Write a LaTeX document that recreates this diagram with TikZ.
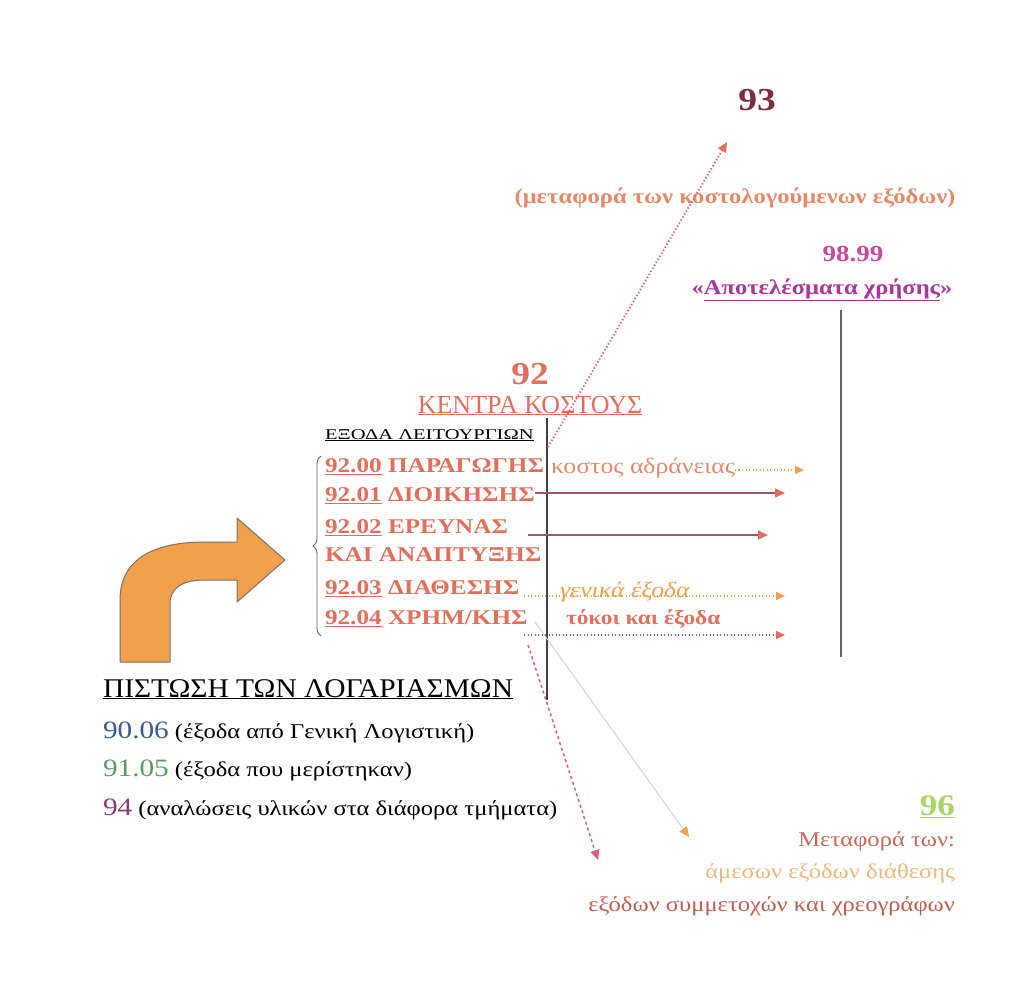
\documentclass[tikz,border=0pt]{standalone}
\usepackage{fontspec}
\setmainfont[FakeStretch=1.17]{Liberation Serif}
\newfontfamily\widefont[FakeStretch=1.37]{Liberation Serif}
\newfontfamily\itemfont[FakeStretch=1.2]{Liberation Serif}
\newfontfamily\plainfont{Liberation Serif}
\newfontfamily\midfont[FakeStretch=1.09]{Liberation Serif}
\usetikzlibrary{arrows.meta,decorations.pathreplacing}
\newcommand{\fsz}[1]{\fontsize{#1}{#1}\selectfont}
\definecolor{salmon}{HTML}{E0705C}
\definecolor{maroon}{HTML}{7A2E3E}
\definecolor{orsal}{HTML}{E58A68}
\definecolor{magent}{HTML}{C8489E}
\definecolor{purp}{HTML}{A8389A}
\definecolor{orng}{HTML}{F3A04C}
\definecolor{mauve}{HTML}{A8506A}
\definecolor{pinkr}{HTML}{D86070}
\definecolor{bluen}{HTML}{3A5A92}
\definecolor{greenn}{HTML}{5A9A62}
\definecolor{purpn}{HTML}{8A3A72}
\definecolor{lime}{HTML}{A8D468}
\definecolor{brsal}{HTML}{C86858}
\definecolor{lorng}{HTML}{EDB880}
\definecolor{faint}{HTML}{D8CCC4}
\begin{document}
\begin{tikzpicture}[x=1pt,y=-1pt,
  lbl/.style={inner sep=0pt, outer sep=0pt},
  item/.style={lbl, anchor=base west, font=\fsz{21}\itemfont\bfseries, text=salmon},
  dotl/.style={line width=1.9pt, dash pattern=on 1.3pt off 2.2pt},
  solidl/.style={line width=1.4pt},
  rule/.style={draw=black!75, line width=1.2pt}]
\fill[white] (0,0) rectangle (1027,1003);
\useasboundingbox (0,0) rectangle (1027,1003);

% top: 93
\node[lbl, anchor=base, font=\fsz{32}\bfseries, text=maroon] (n93) at (757,111) {93};
\node[lbl, anchor=base, font=\fsz{21}\bfseries, text=orsal] (lab93) at (735,204) {(μεταφορά των κοστολογούμενων εξόδων)};

% 98.99
\node[lbl, anchor=base, font=\fsz{23}\bfseries, text=magent] (n9899) at (853,261) {98.99};
\node[lbl, anchor=base, font=\fsz{21}\bfseries, text=purp] (res) at (822,294) {«\underline{Αποτελέσματα χρήσης}»};
\coordinate (rtop) at (841,310);
\coordinate (rbot) at (841,657);
\draw[draw=black!60, line width=1.3pt] (rtop) -- (rbot);

% 92
\node[lbl, anchor=base, font=\fsz{32}\bfseries, text=salmon] (n92) at (530,384) {92};
\node[lbl, anchor=base, font=\fsz{26}\plainfont, text=salmon] (kk) at (530,413) {\underline{ΚΕΝΤΡΑ ΚΟΣΤΟΥΣ}};
\coordinate (ctop) at (547,418);
\coordinate (cbot) at (547,700);
\draw[rule] (ctop) -- (cbot);

\node[lbl, anchor=base west, font=\fsz{15}\widefont, text=black] (exoda) at (325,439) {\underline{ΕΞΟΔΑ ΛΕΙΤΟΥΡΓΙΩΝ}};

% list
\node[item] (i0) at (325,472) {\underline{92.00} ΠΑΡΑΓΩΓΗΣ};
\node[item] (i1) at (325,501) {\underline{92.01} ΔΙΟΙΚΗΣΗΣ};
\node[item] (i2) at (325,533) {\underline{92.02} ΕΡΕΥΝΑΣ};
\node[item] (i2b) at (325,561) {ΚΑΙ ΑΝΑΠΤΥΞΗΣ};
\node[item] (i3) at (325,594) {\underline{92.03} ΔΙΑΘΕΣΗΣ};
\node[item] (i4) at (325,624) {\underline{92.04} ΧΡΗΜ/ΚΗΣ};

% brace
\coordinate (bb) at (321,636);
\coordinate (bt) at (321,456);
\draw[draw=black!60, line width=0.9pt, decorate, decoration={brace, amplitude=8pt}] (bb) -- (bt);

% side labels
\node[lbl, anchor=base west, font=\fsz{22}, text=orsal] (kad) at (551,473) {κοστος αδράνειας};
\node[lbl, anchor=base west, font=\fsz{22}\itshape, text=orng] (gen) at (560,597) {γενικά έξοδα};
\node[lbl, anchor=base west, font=\fsz{20}\bfseries, text=salmon] (tok) at (566,624) {τόκοι και έξοδα};

% arrow ends
\coordinate (e0) at (804,470);
\coordinate (s1) at (i1.east |- 0,493);
\coordinate (e1) at (785,493);
\coordinate (s2) at (528,535);
\coordinate (e2) at (768,535);
\coordinate (s3) at (524,596);
\coordinate (e3) at (785,596);
\coordinate (s4) at (524,635);
\coordinate (e4) at (785,635);
\coordinate (s93) at (548,447);
\coordinate (e93) at (727,142);
\coordinate (sd) at (528,645);
\coordinate (ed) at (598,860);
\coordinate (sf) at (535,622);
\coordinate (ef) at (689,837);

\draw[dotl, draw=orng, -{Triangle[length=9pt,width=8pt,fill=orng,color=orng]}] (kad.east |- e0) -- (e0);
\draw[solidl, draw=mauve, -{Triangle[length=10pt,width=9pt,fill=salmon,color=salmon]}] (s1) -- (e1);
\draw[solidl, draw=mauve, -{Triangle[length=10pt,width=9pt,fill=salmon,color=salmon]}] (s2) -- (e2);
\draw[dotl, draw=orng, -{Triangle[length=9pt,width=8pt,fill=orng,color=orng]}] (s3) -- (e3);
\draw[dotl, draw=mauve, -{Triangle[length=9pt,width=8pt,fill=salmon,color=salmon]}] (s4) -- (e4);
\draw[dotl, draw=pinkr, -{Triangle[length=10pt,width=9pt,fill=salmon,color=salmon]}] (s93) -- (e93);
\draw[line width=1.5pt, dashed, draw=pinkr, -{Triangle[length=10pt,width=9pt,fill=pinkr,color=pinkr]}] (sd) -- (ed);
\draw[line width=0.9pt, draw=faint, -{Triangle[length=10pt,width=9pt,fill=orng,color=orng]}] (sf) -- (ef);

% big orange arrow
\draw[fill=orng, draw=black!55, line width=1pt, line join=round]
  (120,662) -- (120,600) .. controls (120,560) and (152,542) .. (205,542)
  -- (237,542) -- (237,518) -- (285,560) -- (237,602) -- (237,580) -- (205,580)
  .. controls (182,580) and (170,588) .. (170,604) -- (170,662) -- cycle;

% bottom left
\node[lbl, anchor=base west, font=\fsz{27}\midfont, text=black] (pist) at (103,697) {\underline{ΠΙΣΤΩΣΗ ΤΩΝ ΛΟΓΑΡΙΑΣΜΩΝ}};
\node[lbl, anchor=base west, font=\fsz{21}, text=black] (a1) at (103,738) {{\fsz{25}\color{bluen}90.06} (έξοδα από Γενική Λογιστική)};
\node[lbl, anchor=base west, font=\fsz{21}, text=black] (a2) at (103,776) {{\fsz{25}\color{greenn}91.05} (έξοδα που μερίστηκαν)};
\node[lbl, anchor=base west, font=\fsz{21}, text=black] (a3) at (103,815) {{\fsz{25}\color{purpn}94} (αναλώσεις υλικών στα διάφορα τμήματα)};

% 96
\node[lbl, anchor=base east, font=\fsz{30}\bfseries, text=lime] (n96) at (955,815) {\underline{96}};
\node[lbl, anchor=base east, font=\fsz{21}, text=brsal] (m1) at (955,846) {Μεταφορά των:};
\node[lbl, anchor=base east, font=\fsz{21}, text=lorng] (m2) at (955,878) {άμεσων εξόδων διάθεσης};
\node[lbl, anchor=base east, font=\fsz{21}, text=salmon!85!black] (m3) at (955,911) {εξόδων συμμετοχών και χρεογράφων};
\end{tikzpicture}
\end{document}
